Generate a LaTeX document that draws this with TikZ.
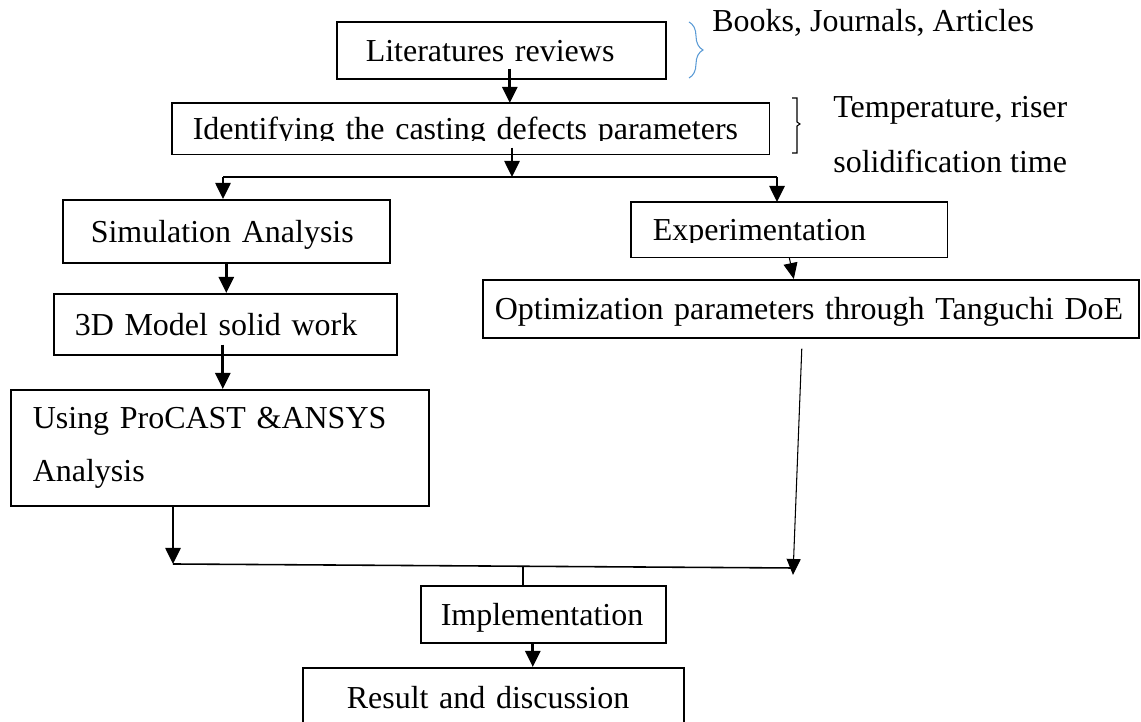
\documentclass[tikz,border=0pt]{standalone}
\usepackage{fontspec}
\setmainfont{Liberation Serif}
\usepackage{tikz}
\usetikzlibrary{arrows.meta,calc,decorations.pathreplacing}
\definecolor{bracketblue}{RGB}{91,155,213}
\tikzstyle{area}=[draw, line width=0.9pt]
\tikzstyle{box}=[area, anchor=north west, align=left, inner ysep=0pt]
\tikzstyle{oneline}=[text height=0.44cm, text depth=0cm]
\tikzstyle{note}=[anchor=base west, inner sep=0pt]
\tikzstyle{link}=[line width=0.9pt]
\tikzstyle{arr}=[line width=1.5pt, -{Triangle[width=0.3cm,length=0.32cm]}]
\tikzstyle{thinarr}=[line width=0.6pt, -{Triangle[width=0.28cm,length=0.32cm]}]

\begin{document}
\begin{tikzpicture}[font=\fontsize{18.2pt}{22pt}\selectfont]
 	\clip (0.0cm,0.0cm) rectangle (22.82cm,14.44cm);
 	\node[box, oneline, text width=5.42cm, inner xsep=0.58cm, minimum height=1.14cm] (lit) at (6.72cm,14.02cm) {Literatures reviews};
 	\begin{scope}
 		\clip (3.44cm,12.38cm) rectangle (15.36cm,11.62cm);
 		\node[box, oneline, draw=none, text width=11.12cm, inner xsep=0.40cm, minimum height=1.0cm] (ident) at (3.44cm,12.38cm) {Identifying the casting defects parameters};
 	\end{scope}
 	\path[area] (ident.north west) rectangle (ident.south east);
 	\node[box, oneline, text width=5.42cm, inner xsep=0.56cm, minimum height=1.26cm] (sim) at (1.24cm,10.46cm) {Simulation Analysis};
 	\begin{scope}
 		\clip (12.62cm,10.40cm) rectangle (18.92cm,9.58cm);
 		\node[box, oneline, draw=none, text width=5.46cm, inner xsep=0.42cm, minimum height=1.08cm] (exp) at (12.62cm,10.40cm) {Experimentation};
 	\end{scope}
 	\path[area] (exp.north west) rectangle (exp.south east);
 	\node[box, oneline, text width=6.02cm, inner xsep=0.42cm, minimum height=1.22cm] (model) at (1.06cm,8.58cm) {3D Model solid work};
 	\node[box, oneline, text width=12.64cm, inner xsep=0.24cm, minimum height=1.16cm] (opt) at (9.64cm,8.86cm) {Optimization parameters through Tanguchi DoE};
 	\node[box, font=\fontsize{18.2pt}{30pt}\selectfont, text width=7.48cm, inner xsep=0.44cm, minimum height=2.32cm] (tool) at (0.20cm,6.66cm) {Using ProCAST \&ANSYS\\Analysis};
 	\node[box, oneline, text width=4.10cm, inner xsep=0.40cm, minimum height=1.14cm] (impl) at (8.40cm,2.74cm) {Implementation};
 	\node[box, oneline, text width=5.86cm, inner xsep=0.88cm, minimum height=1.2cm] (result) at (6.04cm,1.10cm) {Result and discussion};

 	\node[note] (books) at (14.24cm,13.80cm) {Books, Journals, Articles};
 	\node[note] (temp) at (16.66cm,12.08cm) {Temperature, riser};
 	\node[note] (solid) at (16.66cm,10.98cm) {solidification time};
 	\draw[bracketblue, line width=0.6pt, decorate, decoration={brace, amplitude=0.28cm}] (13.78cm,14.00cm) -- (13.78cm,12.88cm);
 	\draw[line width=0.6pt] (15.84cm,12.48cm) -- (15.94cm,12.48cm) -- (15.94cm,12.00cm) -- (16.00cm,11.96cm) -- (15.94cm,11.92cm) -- (15.94cm,11.38cm) -- (15.84cm,11.38cm);

 	\coordinate (fork) at (10.24cm,10.90cm);
 	\coordinate (forkL) at (4.46cm,10.90cm);
 	\coordinate (forkR) at (15.54cm,10.90cm);
 	\coordinate (mergeL) at (3.46cm,3.16cm);
 	\coordinate (mergeR) at (15.86cm,3.08cm);
 	\coordinate (join) at (10.46cm,3.115cm);

 	\draw[arr] ($(lit.south)+(0.17cm,0.22cm)$) -- ($(lit.south |- ident.north)+(0.17cm,0cm)$);
 	\draw[arr] ($(ident.south -| fork)+(0cm,0.14cm)$) -- (fork);
 	\draw[link] (forkL) -- (forkR);
 	\draw[arr] (forkL) -- (forkL |- sim.north);
 	\draw[arr] (forkR) -- (forkR |- exp.north);
 	\draw[arr] (sim.south) -- (sim.south |- model.north);
 	\draw[arr] ($(model.south)+(-0.05cm,0.22cm)$) -- ($(model.south |- tool.north)+(-0.05cm,0cm)$);
 	\draw[thinarr] (exp.south) -- ($(exp.south |- opt.north)+(0.09cm,0cm)$);
 	\draw[thinarr] ($(opt.south)+(-0.18cm,-0.2cm)$) -- ($(mergeR)+(0cm,-0.14cm)$);
 	\draw[arr] (tool.south -| mergeL) -- (mergeL);
 	\draw[link] (mergeL) -- (mergeR);
 	\draw[link] (join) -- (join |- impl.north);
 	\draw[arr] ($(impl.south)+(-0.21cm,0cm)$) -- ($(impl.south |- result.north)+(-0.21cm,0cm)$);
\end{tikzpicture}
\end{document}
